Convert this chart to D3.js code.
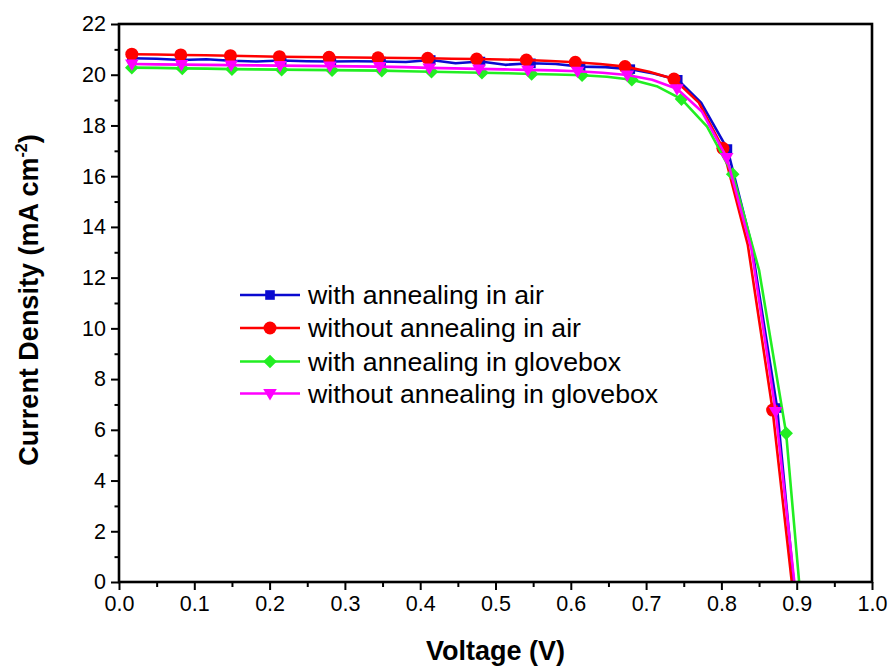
<!DOCTYPE html>
<html>
<head>
<meta charset="utf-8">
<script src="https://cdn.jsdelivr.net/npm/d3@7"></script>
<style>
  body { margin: 0; background: #fff; }
  text { font-family: "Liberation Sans", Arial, sans-serif; fill: #000; }
</style>
</head>
<body>
<svg id="chart"></svg>
<script>
// series names / colours
const seriesNames = ["with annealing in air", "without annealing in air",
                     "with annealing in glovebox", "without annealing in glovebox"];
const seriesColors = ["#0a0ad0", "#ff0000", "#22ee22", "#ff00ff"];
const seriesShapes = ["square", "circle", "diamond", "triangle"];

// voltage (V) and current density (mA cm-2)
const voltBlue = [0.017,0.050,0.083,0.116,0.149,0.183,0.216,0.249,0.282,0.315,0.348,0.381,0.414,0.447,0.480,0.513,0.547,0.580,0.613,0.646,0.679,0.710,0.742,0.773,0.808,0.840,0.874,0.905];
const jBlue    = [20.65,20.63,20.58,20.61,20.55,20.52,20.56,20.53,20.52,20.53,20.52,20.50,20.58,20.45,20.52,20.39,20.45,20.42,20.32,20.30,20.22,20.05,19.80,18.90,17.07,13.30,6.86,-2.8];

const voltRed = [0.017,0.050,0.082,0.115,0.148,0.181,0.213,0.246,0.279,0.312,0.344,0.377,0.410,0.442,0.475,0.508,0.541,0.573,0.606,0.639,0.672,0.704,0.737,0.770,0.802,0.835,0.868,0.901];
const jRed    = [20.81,20.80,20.78,20.77,20.75,20.73,20.71,20.70,20.69,20.68,20.67,20.66,20.65,20.63,20.62,20.60,20.58,20.54,20.49,20.42,20.32,20.12,19.83,18.90,17.10,13.30,6.78,-2.0];

const voltGreen = [0.017,0.050,0.084,0.117,0.150,0.183,0.216,0.249,0.283,0.316,0.349,0.382,0.415,0.449,0.482,0.515,0.548,0.581,0.615,0.648,0.681,0.714,0.747,0.781,0.815,0.850,0.886,0.920];
const jGreen    = [20.28,20.27,20.25,20.24,20.22,20.21,20.20,20.19,20.18,20.17,20.16,20.14,20.12,20.10,20.08,20.06,20.03,20.01,19.98,19.92,19.80,19.55,19.04,17.95,16.08,12.30,5.86,-5.7];

const voltMagenta = [0.017,0.050,0.083,0.116,0.149,0.182,0.214,0.247,0.280,0.313,0.346,0.379,0.412,0.445,0.478,0.511,0.543,0.576,0.609,0.642,0.675,0.708,0.741,0.774,0.807,0.840,0.872,0.905];
const jMagenta    = [20.42,20.41,20.40,20.39,20.38,20.37,20.36,20.35,20.34,20.33,20.32,20.30,20.27,20.25,20.23,20.21,20.19,20.17,20.14,20.08,19.99,19.80,19.45,18.55,16.74,13.10,6.72,-2.2];

// tick labels
const xTickValues = [0, 0.1, 0.2, 0.3, 0.4, 0.5, 0.6, 0.7, 0.8, 0.9, 1.0];
const yTickValues = [0, 2, 4, 6, 8, 10, 12, 14, 16, 18, 20, 22];

const W = 889, H = 668;
const svg = d3.select("#chart").attr("width", W).attr("height", H);

const x = d3.scaleLinear().domain([0, 1]).range([119, 872]);
const y = d3.scaleLinear().domain([0, 22]).range([582, 24]);

const series = [
  {v: voltBlue, j: jBlue},
  {v: voltRed, j: jRed},
  {v: voltGreen, j: jGreen},
  {v: voltMagenta, j: jMagenta}
].map((s, i) => ({
  name: seriesNames[i], color: seriesColors[i], shape: seriesShapes[i],
  points: s.v.map((v, k) => ({v: v, j: s.j[k], k: k}))
}));

// marker shapes
function markerPath(shape) {
  if (shape === "square") return "M-4.8,-4.8H4.8V4.8H-4.8Z";
  if (shape === "circle") return d3.symbol(d3.symbolCircle, Math.PI * 6.5 * 6.5)();
  if (shape === "diamond") return "M0,-6.8L6.8,0L0,6.8L-6.8,0Z";
  return "M-6.8,-4.5L6.8,-4.5L0,7Z";
}

svg.append("defs").append("clipPath").attr("id", "plotclip")
  .append("rect").attr("x", 119).attr("y", 24).attr("width", 753).attr("height", 558);

const plot = svg.append("g").attr("clip-path", "url(#plotclip)");
const line = d3.line().x(d => x(d.v)).y(d => y(d.j));

series.forEach(s => {
  const g = plot.append("g");
  g.append("path").datum(s.points)
    .attr("d", line)
    .attr("fill", "none")
    .attr("stroke", s.color)
    .attr("stroke-width", 2.6)
    .attr("stroke-linejoin", "round");
  g.selectAll("path.mk")
    .data(s.points.filter(d => d.k % 2 === 0 && d.j > 0))
    .join("path")
      .attr("class", "mk")
      .attr("d", markerPath(s.shape))
      .attr("transform", d => `translate(${x(d.v)},${y(d.j)})`)
      .attr("fill", s.color);
});

// axes
svg.append("g").attr("transform", "translate(119,0)")
  .call(d3.axisLeft(y).tickValues(yTickValues).tickSize(8).tickSizeOuter(0).tickPadding(5));
svg.append("g").attr("transform", "translate(119,0)")
  .call(d3.axisLeft(y).tickValues(d3.range(1, 22, 2)).tickSize(4.5).tickFormat(""));

svg.append("g").attr("transform", "translate(0,582)")
  .call(d3.axisBottom(x).tickValues(xTickValues).tickSize(8).tickSizeOuter(0)
    .tickPadding(6).tickFormat(d3.format(".1f")));
svg.append("g").attr("transform", "translate(0,582)")
  .call(d3.axisBottom(x).tickValues(d3.range(0.05, 1, 0.1)).tickSize(5).tickFormat(""));

svg.selectAll(".domain").remove();
svg.selectAll(".tick line").attr("stroke", "#000").attr("stroke-width", 2);
svg.selectAll(".tick text").style("font-size", "21.5px").attr("fill", "#000");

// frame
svg.append("rect")
  .attr("x", 119).attr("y", 24).attr("width", 753).attr("height", 558)
  .attr("fill", "none").attr("stroke", "#000").attr("stroke-width", 2.6);

// axis titles
svg.append("text")
  .attr("x", x(0.5)).attr("y", 660)
  .attr("text-anchor", "middle")
  .style("font-size", "27px").style("font-weight", "bold")
  .text("Voltage (V)");

const yt = svg.append("text")
  .attr("transform", "translate(38,300) rotate(-90)")
  .attr("text-anchor", "middle")
  .style("font-size", "27px").style("font-weight", "bold");
yt.append("tspan").text("Current Density (mA cm");
yt.append("tspan").attr("dy", -11).style("font-size", "16px").text("-2");
yt.append("tspan").attr("dy", 11).text(")");

// legend
const legend = svg.append("g");
const legendRows = [295, 328, 361.5, 393.5];
series.forEach((s, i) => {
  const row = legend.append("g").attr("transform", `translate(0,${legendRows[i]})`);
  row.append("line").attr("x1", 240).attr("x2", 300).attr("y1", 0).attr("y2", 0)
    .attr("stroke", s.color).attr("stroke-width", 2.6);
  row.append("path").attr("d", markerPath(s.shape))
    .attr("transform", "translate(270,0)").attr("fill", s.color);
  row.append("text").attr("x", 308).attr("y", 0).attr("dy", "0.35em")
    .style("font-size", "26.7px").text(s.name);
});
</script>
</body>
</html>
